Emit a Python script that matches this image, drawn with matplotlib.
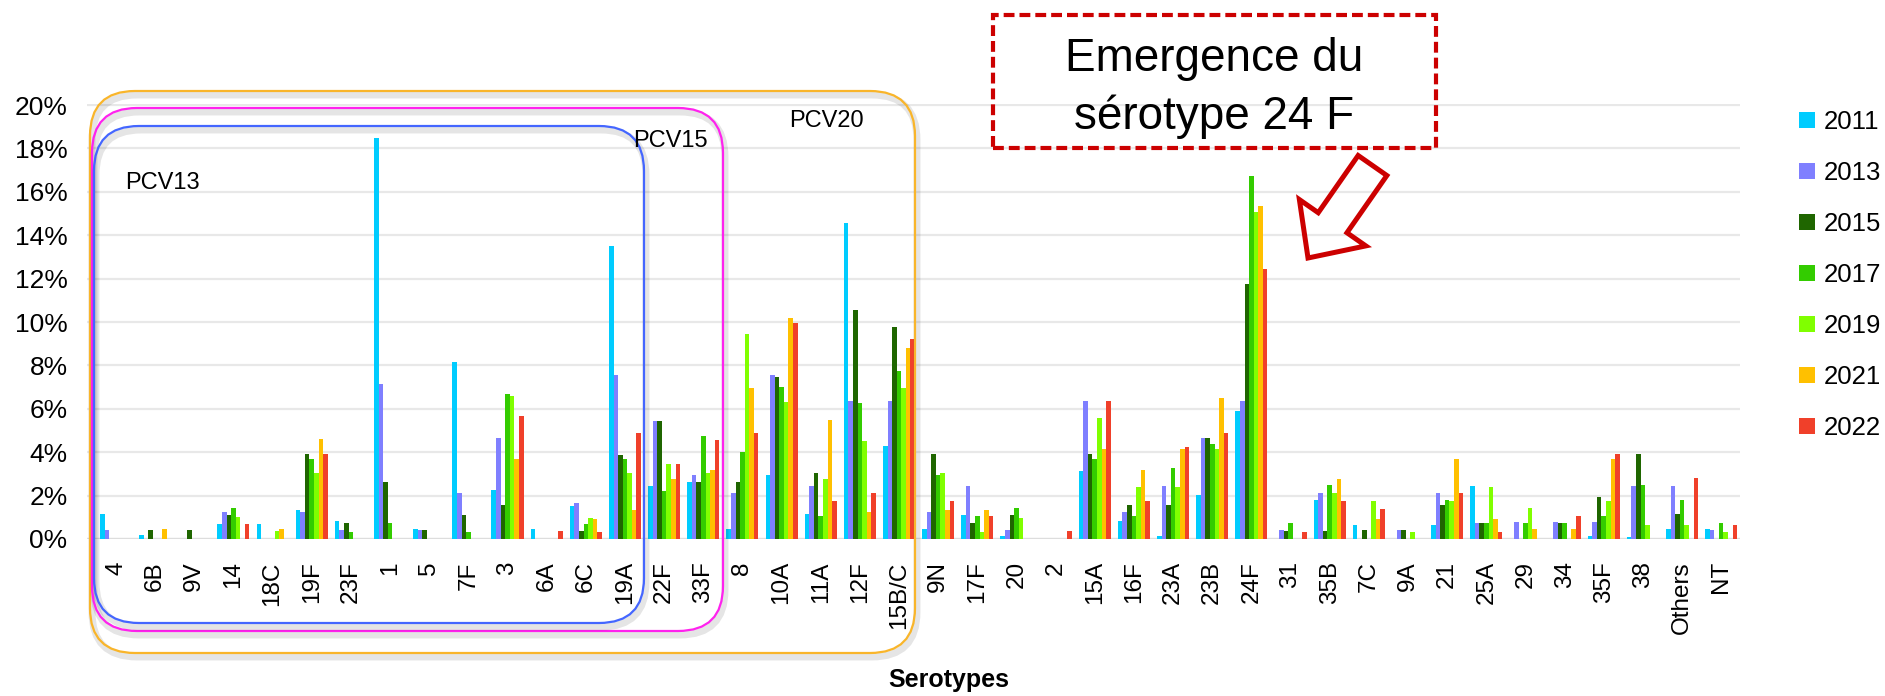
import numpy as np
import matplotlib
matplotlib.use('Agg')
import matplotlib.pyplot as plt
from matplotlib.patches import FancyBboxPatch, Rectangle, FancyArrow, Patch
import matplotlib.transforms as mtransforms

plt.rcParams['font.family'] = ['Liberation Sans', 'DejaVu Sans']

# ---------------- data ----------------
serotypes = ['4', '6B', '9V', '14', '18C', '19F', '23F', '1', '5', '7F', '3', '6A', '6C',
             '19A', '22F', '33F', '8', '10A', '11A', '12F', '15B/C', '9N', '17F', '20',
             '2', '15A', '16F', '23A', '23B', '24F', '31', '35B', '7C', '9A', '21', '25A',
             '29', '34', '35F', '38', 'Others', 'NT']

years = ['2011', '2013', '2015', '2017', '2019', '2021', '2022']
colors = ['#00CCFF', '#7F7FFF', '#1F6600', '#33CC00', '#80FF00', '#FFC000', '#F0402A']

v2011 = [1.15, 0.2, 0, 0.7, 0.7, 1.35, 0.85, 18.5, 0.45, 8.15, 2.25, 0.45, 1.5,
         13.5, 2.45, 2.65, 0.45, 2.95, 1.15, 14.55, 4.3, 0.45, 1.1, 0.15,
         0, 3.15, 0.85, 0.15, 2.05, 5.9, 0, 1.8, 0.65, 0, 0.65, 2.45,
         0, 0, 0.15, 0.1, 0.45, 0.45]
v2013 = [0.4, 0, 0, 1.25, 0, 1.25, 0.4, 7.15, 0.4, 2.1, 4.65, 0, 1.65,
         7.55, 5.45, 2.95, 2.1, 7.55, 2.45, 6.35, 6.35, 1.25, 2.45, 0.4,
         0, 6.35, 1.25, 2.45, 4.65, 6.35, 0.4, 2.1, 0, 0.4, 2.1, 0.75,
         0.8, 0.8, 0.8, 2.45, 2.45, 0.4]
v2015 = [0, 0.4, 0.4, 1.1, 0, 3.9, 0.75, 2.65, 0.4, 1.1, 1.55, 0, 0.35,
         3.85, 5.45, 2.65, 2.65, 7.45, 3.05, 10.55, 9.75, 3.9, 0.75, 1.1,
         0, 3.9, 1.55, 1.55, 4.65, 11.75, 0.35, 0.35, 0.4, 0.4, 1.55, 0.75,
         0, 0.75, 1.95, 3.9, 1.15, 0]
v2017 = [0, 0, 0, 1.45, 0, 3.7, 0.3, 0.75, 0, 0.3, 6.7, 0, 0.7,
         3.7, 2.2, 4.75, 4.0, 7.0, 1.05, 6.25, 7.75, 2.95, 1.05, 1.45,
         0, 3.7, 1.05, 3.25, 4.4, 16.75, 0.75, 2.5, 0, 0, 1.8, 0.75,
         0.75, 0.75, 1.05, 2.5, 1.8, 0.75]
v2019 = [0, 0, 0, 1.0, 0.35, 3.05, 0, 0, 0, 0, 6.6, 0, 0.95,
         3.05, 3.45, 3.05, 9.45, 6.3, 2.75, 4.5, 6.95, 3.05, 0.3, 0.95,
         0, 5.6, 2.4, 2.4, 4.15, 15.05, 0, 2.1, 1.75, 0.3, 1.75, 2.4,
         1.45, 0, 1.75, 0.65, 0.65, 0.3]
v2021 = [0, 0.45, 0, 0, 0.45, 4.6, 0, 0, 0, 0, 3.7, 0, 0.9,
         1.35, 2.75, 3.2, 6.95, 10.2, 5.5, 1.25, 8.8, 1.35, 1.35, 0,
         0, 4.15, 3.2, 4.15, 6.5, 15.35, 0, 2.75, 0.9, 0, 3.7, 0.9,
         0.45, 0.45, 3.7, 0, 0, 0]
v2022 = [0, 0, 0, 0.7, 0, 3.9, 0, 0, 0, 0, 5.65, 0.35, 0.3,
         4.9, 3.45, 4.55, 4.9, 9.95, 1.75, 2.1, 9.2, 1.75, 1.05, 0,
         0.35, 6.35, 1.75, 4.25, 4.9, 12.45, 0.3, 1.75, 1.4, 0, 2.1, 0.3,
         0, 1.05, 3.9, 0, 2.8, 0.65]

series = [v2011, v2013, v2015, v2017, v2019, v2021, v2022]

yticks = [0, 2, 4, 6, 8, 10, 12, 14, 16, 18, 20]
ytick_labels = [f'{t}%' for t in yticks]

# ---------------- figure ----------------
W, H = 1885, 696
fig = plt.figure(figsize=(W / 100, H / 100), dpi=100)
fig.patch.set_facecolor('white')

ax = fig.add_axes([87 / W, 1 - 539 / H, (1740 - 87) / W, (539 - 104) / H])
x = np.arange(len(serotypes))
bw = 0.117
for j, (vals, c, yr) in enumerate(zip(series, colors, years)):
    ax.bar(x + (j - 3) * bw, vals, width=bw, color=c, label=yr, linewidth=0, zorder=3)

ax.set_xlim(-0.741, 41.48)
ax.set_ylim(0, 20.05)
ax.set_yticks(yticks)
ax.set_yticklabels(ytick_labels)
ax.set_xticks(x)
ax.set_xticklabels(serotypes, rotation=90, va='top', ha='center')
ax.tick_params(axis='x', length=0, pad=16, labelsize=17.5)
ax.tick_params(axis='y', length=0, pad=14, labelsize=19)
ax.grid(axis='y', color='#E8E8E8', lw=1.6, zorder=0)
ax.grid(axis='x', visible=False)
ax.set_axisbelow(True)
for s in ax.spines.values():
    s.set_visible(False)
ax.axhline(0, color='#DDDDDD', lw=1.6, zorder=1)

# pixel transform (origin bottom-left, pixel units)
T = mtransforms.Affine2D().scale(1 / W, 1 / H) + fig.transFigure


def rbox(x0, y0, x1, y1, color, r=45):
    sh = FancyBboxPatch((x0 + 2, H - y1 - 4), x1 - x0, y1 - y0,
                        boxstyle=f"round,pad=0,rounding_size={r}",
                        transform=T, fill=False, ec='#000000', alpha=0.10, lw=5)
    fig.add_artist(sh)
    b = FancyBboxPatch((x0, H - y1), x1 - x0, y1 - y0,
                       boxstyle=f"round,pad=0,rounding_size={r}",
                       transform=T, fill=False, ec=color, lw=1.6)
    fig.add_artist(b)


rbox(90, 91, 915, 653, '#F9B52A')
rbox(92, 108, 723, 631, '#FF22EE')
rbox(94, 126, 644, 623, '#4466FF')

fig.text(162 / W, 1 - 183 / H, 'PCV13', fontsize=17, ha='center', va='center')
fig.text(670 / W, 1 - 141 / H, 'PCV15', fontsize=17, ha='center', va='center')
fig.text(826 / W, 1 - 121 / H, 'PCV20', fontsize=17, ha='center', va='center')

# annotation box
ann = Rectangle((993, H - 148), 1436 - 993, 148 - 15, transform=T, fill=False,
                ec='#CC0000', lw=3.0, linestyle=(0, (2.6, 1.2)))
fig.add_artist(ann)
fig.text(1214 / W, 1 - 88 / H, 'Emergence du\nsérotype 24 F', fontsize=33,
         ha='center', va='center', linespacing=1.38)

# hollow arrow
arr = FancyArrow(1372.5, H - 165.5, -64.5, -92.5, width=35, head_width=81,
                 head_length=43, length_includes_head=True, transform=T,
                 fill=False, ec='#CC0000', lw=3.6, joinstyle='miter')
fig.add_artist(arr)

# x label
fig.text(949 / W, 1 - 680 / H, 'Serotypes', fontsize=18, fontweight='bold',
         ha='center', va='center')

# legend
handles = [Patch(facecolor=c, edgecolor='none', label=yr) for c, yr in zip(colors, years)]
fig.legend(handles=handles, loc='upper left', bbox_to_anchor=(1799 / W, 1 - 110 / H),
           frameon=False, fontsize=18.5, handlelength=0.62, handleheight=0.62,
           handletextpad=0.34, labelspacing=1.05, borderpad=0, borderaxespad=0)

fig.savefig('out.png', dpi=100, facecolor='white')
